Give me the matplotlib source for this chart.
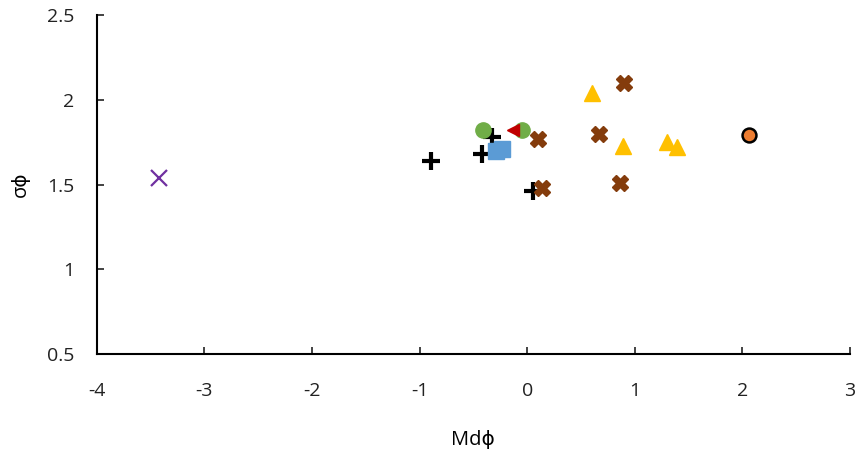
import matplotlib
matplotlib.use('Agg')
import matplotlib.pyplot as plt

plt.rcParams['font.family'] = ['Open Sans', 'DejaVu Sans']
plt.rcParams['axes.unicode_minus'] = False

# 各组数据 (Mdφ, σφ)
purple_x = [-3.42]
purple_y = [1.54]

plus_x = [-0.89, -0.42, -0.33, 0.05]
plus_y = [1.64, 1.68, 1.78, 1.46]

square_x = [-0.29, -0.23]
square_y = [1.70, 1.71]

green_x = [-0.41, -0.05]
green_y = [1.82, 1.82]

red_x = [-0.13]
red_y = [1.82]

brown_x = [0.10, 0.14, 0.67, 0.90, 0.86]
brown_y = [1.77, 1.48, 1.80, 2.10, 1.51]

tri_x = [0.60, 0.89, 1.30, 1.39]
tri_y = [2.04, 1.73, 1.75, 1.72]

orange_x = [2.06]
orange_y = [1.79]

fig = plt.figure(figsize=(8.56, 4.55), dpi=100)
ax = fig.add_axes([0.113, 0.222, 0.880, 0.745])

ax.plot(purple_x, purple_y, ls='none', marker='x', ms=11, mew=1.6, color='#7030A0')
ax.plot(plus_x, plus_y, ls='none', marker='+', ms=13, mew=3, color='black')
ax.plot(green_x, green_y, ls='none', marker='o', ms=11, color='#70AD47')
ax.plot(square_x, square_y, ls='none', marker='s', ms=11, color='#5B9BD5')
ax.plot(red_x, red_y, ls='none', marker='<', ms=9, color='#C00000')
ax.plot(brown_x, brown_y, ls='none', marker='X', ms=12, color='#843C0C', mec='#843C0C')
ax.plot(tri_x, tri_y, ls='none', marker='^', ms=12, color='#FFC000')
ax.plot(orange_x, orange_y, ls='none', marker='o', ms=10, color='#ED7D31', mec='black', mew=1.8)

ax.set_xlim(-4, 3)
ax.set_ylim(0.5, 2.5)
ax.set_xticks(range(-4, 4))
ax.set_yticks([0.5, 1, 1.5, 2, 2.5])
ax.set_yticklabels(['0.5', '1', '1.5', '2', '2.5'])

for s in ['top', 'right']:
    ax.spines[s].set_visible(False)
for s in ['left', 'bottom']:
    ax.spines[s].set_linewidth(1.5)

ax.tick_params(axis='both', direction='in', length=5, width=1.2, labelsize=14, colors='#222222')
ax.tick_params(axis='x', pad=20)
ax.tick_params(axis='y', pad=16)

ax.set_xlabel('Mdϕ', fontsize=14.5, labelpad=22)
ax.set_ylabel('σϕ', fontsize=14.5, labelpad=12)

fig.savefig('out.png', dpi=100)
